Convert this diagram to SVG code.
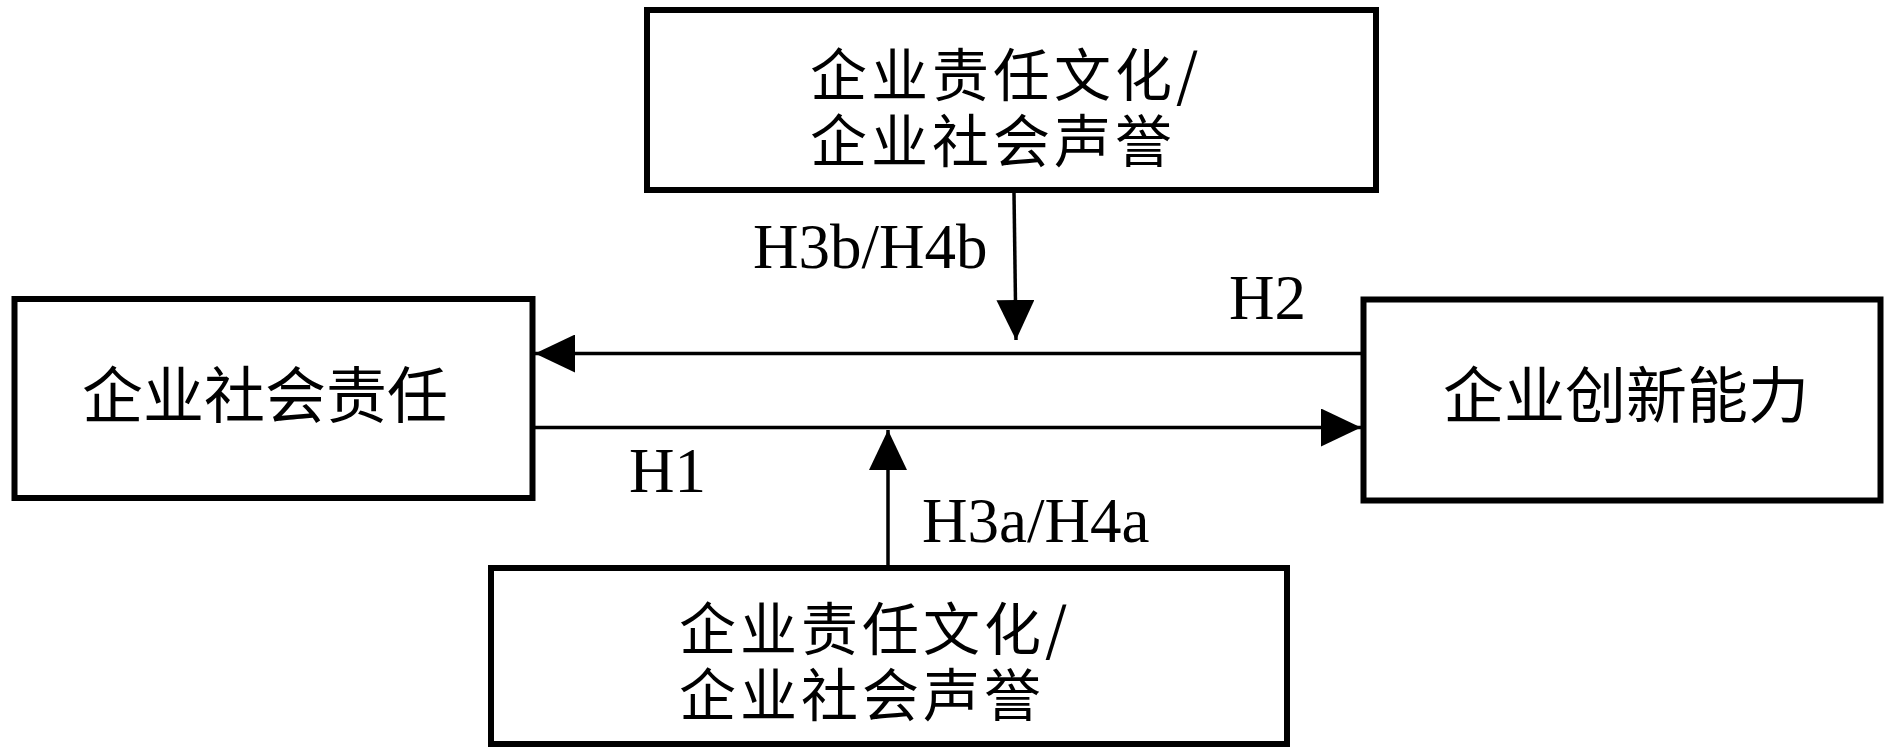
<svg xmlns="http://www.w3.org/2000/svg" width="1890" height="756" viewBox="0 0 1890 756">
  <style>
    .box { fill: #ffffff; stroke: #000000; stroke-width: 6; }
    .cjk { font-family: "Noto Sans CJK SC", "Liberation Serif", serif; font-size: 61px; fill: #000000; }
    .cjk2 { font-family: "Noto Sans CJK SC", "Liberation Serif", serif; font-size: 57px; letter-spacing: 4px; fill: #000000; }
    .lbl { font-family: "Liberation Serif", "Times New Roman", serif; font-size: 63px; fill: #000000; }
    .conn { stroke: #000000; stroke-width: 3.5; fill: none; }
  </style>
  <defs>
    <marker id="arrow" markerUnits="userSpaceOnUse" markerWidth="40" markerHeight="38" refX="40" refY="19" orient="auto" viewBox="0 0 40 38">
      <path d="M0,0 L40,19 L0,38 Z" fill="#000000"/>
    </marker>
  </defs>
  <rect width="1890" height="756" fill="#ffffff"/>

  <g id="node-top">
    <rect class="box" x="647" y="10" width="729" height="180"/>
    <text class="cjk2" x="810" y="96">企业责任文化/</text>
    <text class="cjk2" x="810" y="162">企业社会声誉</text>
  </g>

  <g id="node-left">
    <rect class="box" x="14.5" y="299" width="518" height="199"/>
    <text class="cjk" x="82" y="418">企业社会责任</text>
  </g>

  <g id="node-right">
    <rect class="box" x="1363.5" y="299.5" width="517" height="201"/>
    <text class="cjk" x="1443" y="418">企业创新能力</text>
  </g>

  <g id="node-bottom">
    <rect class="box" x="491" y="568" width="796" height="176"/>
    <text class="cjk2" x="679" y="650">企业责任文化/</text>
    <text class="cjk2" x="679" y="716">企业社会声誉</text>
  </g>

  <g id="connectors">
    <line class="conn" x1="1361" y1="353.5" x2="535" y2="353.5" marker-end="url(#arrow)"/>
    <line class="conn" x1="535" y1="427.5" x2="1361" y2="427.5" marker-end="url(#arrow)"/>
    <line class="conn" x1="1014" y1="193" x2="1016" y2="340" marker-end="url(#arrow)"/>
    <line class="conn" x1="888" y1="565" x2="888" y2="430" marker-end="url(#arrow)"/>
    <text class="lbl" x="753" y="268">H3b/H4b</text>
    <text class="lbl" x="1229" y="319">H2</text>
    <text class="lbl" x="629" y="492">H1</text>
    <text class="lbl" x="922" y="542">H3a/H4a</text>
  </g>
</svg>
